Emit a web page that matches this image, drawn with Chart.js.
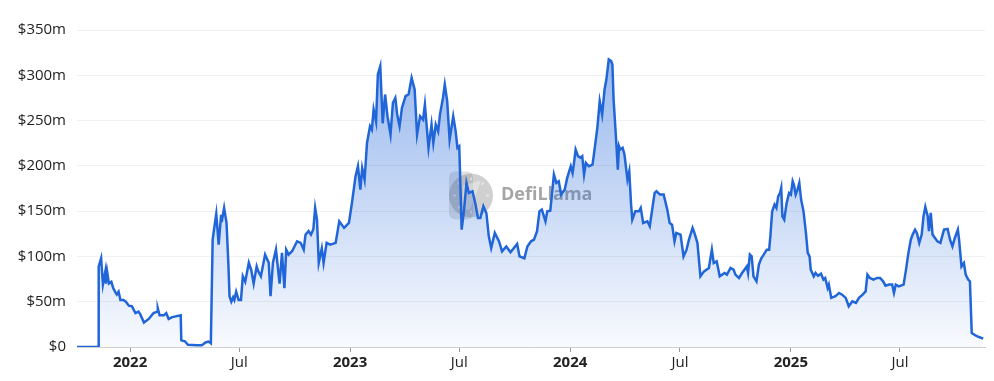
<!DOCTYPE html>
<html>
<head>
<meta charset="utf-8">
<script src="https://cdn.jsdelivr.net/npm/chart.js@4"></script>
<style>
html,body{margin:0;padding:0;background:#fff;}
#wrap{width:994px;height:381px;position:relative;}
</style>
</head>
<body>
<div id="wrap"><canvas id="c" width="994" height="381"></canvas></div>
<script>
const dates = [
'2021-10-05','2021-11-09','2021-11-10','2021-11-14','2021-11-17','2021-11-21','2021-11-22','2021-11-24','2021-11-27','2021-12-01',
'2021-12-04','2021-12-08','2021-12-10','2021-12-13','2021-12-16','2021-12-21','2021-12-25','2021-12-30','2022-01-04','2022-01-10',
'2022-01-15','2022-01-18','2022-01-24','2022-02-01','2022-02-09','2022-02-15','2022-02-16','2022-02-19','2022-02-26','2022-03-02',
'2022-03-06','2022-03-12','2022-03-26','2022-03-27','2022-04-02','2022-04-07','2022-04-22','2022-04-30','2022-05-06','2022-05-11',
'2022-05-15','2022-05-18','2022-05-21','2022-05-24','2022-05-28','2022-06-01','2022-06-02','2022-06-06','2022-06-10','2022-06-13',
'2022-06-15','2022-06-18','2022-06-21','2022-06-23','2022-06-26','2022-06-30','2022-07-04','2022-07-07','2022-07-11','2022-07-17',
'2022-07-21','2022-07-25','2022-07-30','2022-08-02','2022-08-06','2022-08-13','2022-08-19','2022-08-22','2022-08-26','2022-08-31',
'2022-09-06','2022-09-10','2022-09-14','2022-09-17','2022-09-21','2022-09-27','2022-10-05','2022-10-11','2022-10-16','2022-10-19',
'2022-10-24','2022-10-28','2022-11-01','2022-11-04','2022-11-07','2022-11-10','2022-11-15','2022-11-18','2022-11-23','2022-11-29',
'2022-12-08','2022-12-14','2022-12-22','2022-12-30','2023-01-04','2023-01-10','2023-01-14','2023-01-18','2023-01-21','2023-01-25',
'2023-01-29','2023-02-03','2023-02-06','2023-02-09','2023-02-13','2023-02-16','2023-02-20','2023-02-24','2023-02-28','2023-03-04',
'2023-03-09','2023-03-13','2023-03-17','2023-03-20','2023-03-24','2023-03-28','2023-04-03','2023-04-08','2023-04-13','2023-04-18',
'2023-04-22','2023-04-27','2023-05-02','2023-05-05','2023-05-11','2023-05-16','2023-05-19','2023-05-23','2023-05-27','2023-05-30',
'2023-06-04','2023-06-07','2023-06-11','2023-06-15','2023-06-21','2023-06-25','2023-06-28','2023-07-01','2023-07-05','2023-07-09',
'2023-07-13','2023-07-17','2023-07-23','2023-07-28','2023-08-01','2023-08-05','2023-08-10','2023-08-15','2023-08-19','2023-08-23',
'2023-08-29','2023-09-05','2023-09-10','2023-09-17','2023-09-24','2023-10-05','2023-10-09','2023-10-17','2023-10-22','2023-10-28',
'2023-11-02','2023-11-07','2023-11-11','2023-11-15','2023-11-21','2023-11-24','2023-11-29','2023-12-05','2023-12-09','2023-12-13',
'2023-12-17','2023-12-23','2023-12-27','2024-01-02','2024-01-05','2024-01-07','2024-01-10','2024-01-14','2024-01-18','2024-01-21',
'2024-01-24','2024-01-27','2024-02-01','2024-02-07','2024-02-09','2024-02-15','2024-02-19','2024-02-23','2024-02-27','2024-03-01',
'2024-03-05','2024-03-09','2024-03-11','2024-03-13','2024-03-18','2024-03-20','2024-03-22','2024-03-24','2024-03-28','2024-03-31',
'2024-04-05','2024-04-08','2024-04-11','2024-04-13','2024-04-18','2024-04-24','2024-04-27','2024-05-01','2024-05-08','2024-05-12',
'2024-05-20','2024-05-23','2024-05-29','2024-06-04','2024-06-10','2024-06-14','2024-06-18','2024-06-22','2024-06-25','2024-07-02',
'2024-07-07','2024-07-12','2024-07-16','2024-07-22','2024-07-25','2024-07-30','2024-08-04','2024-08-10','2024-08-18','2024-08-23',
'2024-08-26','2024-08-31','2024-09-05','2024-09-13','2024-09-17','2024-09-23','2024-09-28','2024-10-01','2024-10-07','2024-10-12',
'2024-10-20','2024-10-22','2024-10-25','2024-10-28','2024-10-31','2024-11-05','2024-11-09','2024-11-13','2024-11-17','2024-11-22',
'2024-11-26','2024-11-28','2024-12-01','2024-12-05','2024-12-08','2024-12-11','2024-12-14','2024-12-16','2024-12-18','2024-12-21',
'2024-12-25','2024-12-29','2025-01-01','2025-01-04','2025-01-06','2025-01-09','2025-01-12','2025-01-15','2025-01-18','2025-01-22',
'2025-01-26','2025-01-29','2025-02-01','2025-02-03','2025-02-08','2025-02-11','2025-02-15','2025-02-20','2025-02-24','2025-02-27',
'2025-03-03','2025-03-05','2025-03-09','2025-03-16','2025-03-22','2025-03-27','2025-04-02','2025-04-07','2025-04-13','2025-04-19',
'2025-04-24','2025-04-30','2025-05-05','2025-05-08','2025-05-12','2025-05-18','2025-05-24','2025-05-29','2025-06-03','2025-06-07',
'2025-06-13','2025-06-18','2025-06-21','2025-06-24','2025-06-29','2025-07-07','2025-07-11','2025-07-15','2025-07-19','2025-07-22',
'2025-07-26','2025-07-29','2025-08-02','2025-08-06','2025-08-09','2025-08-12','2025-08-16','2025-08-18','2025-08-21','2025-08-24',
'2025-08-28','2025-09-01','2025-09-06','2025-09-12','2025-09-18','2025-09-22','2025-09-26','2025-09-30','2025-10-05','2025-10-07',
'2025-10-11','2025-10-15','2025-10-18','2025-10-22','2025-10-25','2025-10-28','2025-11-04','2025-11-09','2025-11-16'
];
const tvlMillions = [
0,0,89,98,69,83.5,70,83,70,72,
65,60,58,61,52,52,50,45.6,45,37.5,
39,36,27,31,37.5,39,42.7,35,35,37.5,
31,33,35,7.3,6.3,2.5,1.8,1.8,5,6,
4,118.5,133,147,113,146,138,153.6,137,92.8,
56,50,55,52,61,52,52,78,72,93,
85,70,89,83,78,102,93,56,93,107.5,
70,104,65,107.5,102,106,116.7,115,107.5,124,
128,124,130,153.6,141,93,109,93,115,113,
115,138.8,131.5,137,159,188.5,199.6,173.8,197.5,184.9,
225.4,243.8,240,262.2,249,300.9,310,247,278.8,254.8,
234.6,269.6,275,257,243.8,264,277,279,297.2,284.3,
234.6,254.8,251,267.7,219.9,245.6,225.4,245.6,238.3,256.6,
275,289.8,271.5,229,254.8,238.3,219.9,221.7,129.6,151.7,
181.2,170,172,157.2,142.5,142.5,155.4,148,122.2,109.4,
126,116.6,105.6,111,104.6,113.8,100,98,111,116.7,
118.5,127.8,149.8,151.7,138.8,149.8,150.5,190.4,181.2,183,
168.3,173.8,186.7,199.6,192.2,201.4,218,210.7,209,210.7,
190.4,203.3,199.6,201.4,210.7,242,271.4,256.6,284.3,295.3,
317.4,315.6,312,273.3,219.9,195.9,221.7,218,219.9,212.5,
184.9,194,157.2,140.6,149.8,149.8,153.6,136.9,138.8,133.3,
170,172,168.3,168.3,151.7,136.9,135,116.7,126,124,
100,107.5,118.5,131.5,126,115,78,83.5,87.2,107.5,
92.8,94.6,78,81.7,79.9,87.2,85.4,79.9,76.2,81.7,
89,81.7,102,100,78,72.5,91,98,102,107.5,
107.5,122.2,149.8,157.2,153.6,166.4,170,175.7,144.3,140.6,
159,170,168.3,183,179.4,168.3,173.8,181.2,162.8,149.8,
126,104,100,85.4,78,81.7,78.7,81,74.4,76.2,
65.2,68.9,54.2,56,59.7,57.8,54.2,45,50.5,48.6,
54.2,57.8,61.4,79.9,76.2,74.4,76.2,76.2,72.5,67.7,
68.9,68.9,59.7,68.9,67,68.9,85.4,103.9,118.6,124.1,
129.6,126,115,124.1,144.3,154.7,144.3,127.8,148,124.1,
120.4,116.7,115,129.6,130.3,118.5,111.1,120.4,129.6,118.5,
89,92.8,79.9,74.4,72.5,15.5,12.5,11,9.2
];
const tickDates = ['2022-01-01','2022-07-01','2023-01-01','2023-07-01','2024-01-01','2024-07-01','2025-01-01','2025-07-01'];
const tickLabels = ['2022','Jul','2023','Jul','2024','Jul','2025','Jul'];
const yTicks = [0,50,100,150,200,250,300,350];

const toMs = s => Date.parse(s + 'T00:00:00Z');
const points = dates.map((d,i)=>({x: toMs(d), y: tvlMillions[i]}));
const tickMs = tickDates.map(toMs);

const watermark = {
  id:'watermark',
  beforeDatasetsDraw(chart){
    const {ctx, chartArea} = chart;
    const cx = (chartArea.left + chartArea.right)/2;
    const cy = (chartArea.top + chartArea.bottom)/2;
    ctx.save();
    const lx = cx - 60, ly = cy + 7;
    ctx.fillStyle = 'rgba(120,120,120,0.22)';
    ctx.beginPath();
    if (ctx.roundRect) ctx.roundRect(lx-22, ly-24, 24, 48, 6); else ctx.rect(lx-22, ly-24, 24, 48);
    ctx.fill();
    ctx.fillStyle = 'rgba(120,120,120,0.35)';
    ctx.beginPath();
    ctx.arc(lx, ly, 22, 0, Math.PI*2);
    ctx.fill();
    ctx.strokeStyle = 'rgba(255,255,255,0.45)';
    ctx.lineWidth = 2;
    for (let k=0;k<8;k++){
      const a = k*Math.PI/4;
      ctx.beginPath();
      ctx.moveTo(lx+Math.cos(a)*15, ly+Math.sin(a)*15);
      ctx.lineTo(lx+Math.cos(a)*18, ly+Math.sin(a)*18);
      ctx.stroke();
    }
    ctx.fillStyle = 'rgba(255,255,255,0.35)';
    ctx.beginPath();
    ctx.moveTo(lx-8, ly-10); ctx.lineTo(lx+10, ly-15); ctx.lineTo(lx+4, ly+1);
    ctx.lineTo(lx-1, ly+14); ctx.lineTo(lx-8, ly+14); ctx.closePath();
    ctx.fill();
    ctx.font = 'bold 18px "Open Sans", sans-serif';
    ctx.fillStyle = 'rgba(105,105,105,0.6)';
    ctx.textBaseline = 'middle';
    ctx.textAlign = 'left';
    ctx.fillText('DefiLlama', lx + 30, ly - 1);
    ctx.restore();
  }
};

const ctx = document.getElementById('c').getContext('2d');
new Chart(ctx, {
  type:'line',
  data:{datasets:[{
    data: points,
    borderColor:'#2166d8',
    borderWidth:2.5,
    pointRadius:0,
    tension:0,
    fill:'origin',
    backgroundColor:(c)=>{
      const ch = c.chart; const a = ch.chartArea;
      if(!a) return 'rgba(34,102,217,0.2)';
      const g = ch.ctx.createLinearGradient(0,a.top,0,a.bottom);
      g.addColorStop(0,'rgba(34,102,217,0.5)');
      g.addColorStop(1,'rgba(34,102,217,0.03)');
      return g;
    }
  }]},
  options:{
    responsive:false,
    animation:false,
    events:[],
    layout:{padding:{left:0,right:9,top:30,bottom:0}},
    plugins:{legend:{display:false},tooltip:{enabled:false}},
    scales:{
      x:{
        type:'linear',
        min: points[0].x,
        max: points[points.length-1].x + 3*86400000,
        afterBuildTicks(s){ s.ticks = tickMs.map(v=>({value:v})); },
        afterFit(s){ s.height = 34; },
        grid:{drawOnChartArea:false, drawTicks:true, tickLength:5, color:'#9a9a9a'},
        border:{display:true, color:'#cfcfcf', width:1},
        ticks:{
          autoSkip:false, maxRotation:0, padding:2, color:'#222',
          callback:(v)=>{ const i = tickMs.indexOf(v); return i>=0 ? tickLabels[i] : ''; },
          font:(c)=>{ const i = c.tick ? tickMs.indexOf(c.tick.value) : -1; const bold = i>=0 && /^\d+$/.test(tickLabels[i]); return {family:'"Open Sans", sans-serif', size:15, weight: bold?'bold':'normal'}; }
        }
      },
      y:{
        min:0, max:350,
        afterBuildTicks(s){ s.ticks = yTicks.map(v=>({value:v})); },
        afterFit(s){ s.width = 77; },
        grid:{color:'#f0f0f0', drawTicks:false, lineWidth:1},
        border:{display:false},
        ticks:{
          padding:11, color:'#222',
          font:{family:'"Open Sans", sans-serif', size:15},
          callback:(v)=> v===0 ? '$0' : '$'+v+'m'
        }
      }
    }
  },
  plugins:[watermark]
});
</script>
</body>
</html>
